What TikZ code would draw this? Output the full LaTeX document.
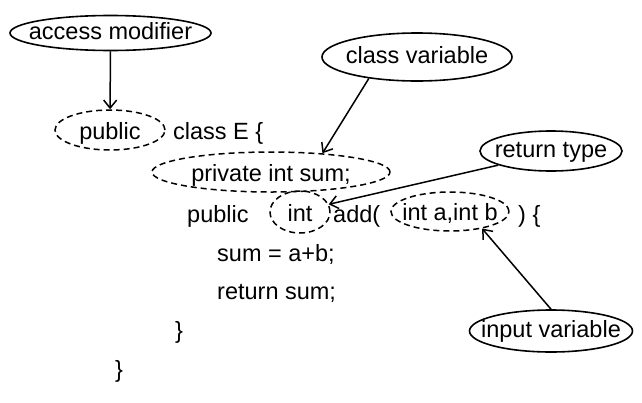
\documentclass[tikz,border=0pt]{standalone}
\usepackage{fontspec}
\setmainfont{Liberation Sans}
\usetikzlibrary{shapes.geometric, arrows.meta}

\begin{document}
\begin{tikzpicture}[x=1pt, y=-1pt, >={Straight Barb[length=8pt,width=13pt]},
    font=\fontsize{23.5}{28}\selectfont,
    tag/.style={draw, ellipse, line width=1.6pt, inner sep=0pt},
    dashring/.style={draw, ellipse, line width=1.5pt, dash pattern=on 6pt off 4pt, inner sep=0pt},
    codelbl/.style={text height=18pt},
    code/.style={anchor=base west, inner sep=0pt},
    link/.style={->, line width=1.5pt},
    every label/.style={inner sep=0pt, text height=13pt, text depth=0pt}]
    \useasboundingbox (0,0) rectangle (642,402);

    % Mã nguồn
    \node[dashring, minimum width=110pt, minimum height=40pt, label={[codelbl]center:public}] (pubA) at (110,130) {};
    \node[code] (cls) at (173,139) {class E \{};
    \node[dashring, minimum width=238pt, minimum height=40pt, label={[codelbl]center:private int sum;}] (prv) at (271,172) {};
    \node[code] (pubB) at (187,222) {public};
    \node[dashring, minimum width=60pt, minimum height=42pt, label={[codelbl]center:int}] (intT) at (300,212) {};
    \node[code] (addf) at (333,222) {add(};
    \node[dashring, minimum width=118pt, minimum height=39pt, label={[codelbl]center:int a,int b}] (ia) at (450,211.5) {};
    \node[code] (clos) at (518,222) {) \{};
    \node[code] (ln4) at (217,261) {sum = a+b;};
    \node[code] (ln5) at (217,299) {return sum;};
    \node[code] (end1) at (175,338) {\}};
    \node[code] (end2) at (115,377) {\}};

    % Nhãn chú thích
    \node[tag, minimum width=201pt, minimum height=35pt, label={center:access modifier}] (am) at (110.5,33) {};
    \node[tag, minimum width=190pt, minimum height=48pt, label={center:class variable}] (cv) at (417,57) {};
    \node[tag, minimum width=142pt, minimum height=40pt, label={center:return type}] (rt) at (551,151) {};
    \node[tag, minimum width=163pt, minimum height=42pt, label={center:input variable}] (iv) at (551,331) {};

    % Mũi tên
    \draw[link] (am) -- (pubA);
    \draw[link] (cv.204) -- (prv.20);
    \draw[link] (rt.195) -- (intT.15);
    \draw[link] (iv.north) -- (ia.332);
\end{tikzpicture}
\end{document}
